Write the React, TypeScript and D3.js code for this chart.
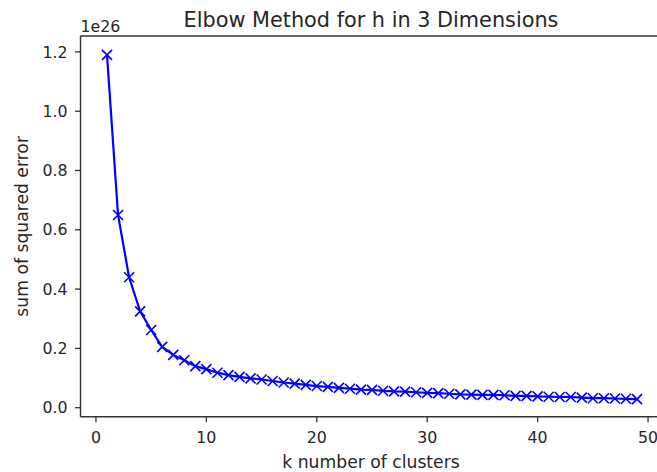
import React from "react";
import * as d3 from "d3";

const kValues: number[] = Array.from({ length: 49 }, (_, i) => i + 1);
const sse: number[] = [
  1.19, 0.65, 0.44, 0.325, 0.262, 0.205, 0.178, 0.16, 0.14, 0.13,
  0.118, 0.11, 0.104, 0.099, 0.095, 0.09, 0.085, 0.081, 0.077, 0.073,
  0.07, 0.067, 0.064, 0.061, 0.06, 0.057, 0.055, 0.054, 0.052, 0.05,
  0.049, 0.047, 0.045, 0.044, 0.043, 0.043, 0.042, 0.04, 0.04, 0.038,
  0.037, 0.036, 0.036, 0.034, 0.032, 0.032, 0.031, 0.03, 0.029,
];
const xTicks: number[] = [0, 10, 20, 30, 40, 50];
const yTicks: number[] = [0, 0.2, 0.4, 0.6, 0.8, 1.0, 1.2];

const title = "Elbow Method for h in 3 Dimensions";
const xLabel = "k number of clusters";
const yLabel = "sum of squared error";
const offsetText = "1e26";

export default function App() {
  const W = 657;
  const H = 472;
  const left = 80.5;
  const right = 663.5;
  const top = 36;
  const bottom = 416.7;
  const font = "DejaVu Sans, sans-serif";
  const fs = 15.8;
  const labelFs = 17.2;

  const x = d3.scaleLinear().domain([-1.4, 51.4]).range([left, right]);
  const y = d3.scaleLinear().domain([-0.0304, 1.2536]).range([bottom, top]);

  const line = d3
    .line<number>()
    .x((_, i) => x(kValues[i]))
    .y((d) => y(d));

  const ms = 5;
  const txtColor = "#262626";
  const axisColor = "#333";

  return (
    <svg
      width={W}
      height={H}
      style={{ position: "absolute", left: 0, top: 0, background: "#fff" }}
      fontFamily={font}
    >
      <rect x={0} y={0} width={W} height={H} fill="#fff" />
      <path d={line(sse) || ""} fill="none" stroke="#0000ff" strokeWidth={2.2} />
      {sse.map((v, i) => {
        const cx = x(kValues[i]);
        const cy = y(v);
        return (
          <path
            key={i}
            d={`M${cx - ms},${cy - ms}L${cx + ms},${cy + ms}M${cx - ms},${cy + ms}L${cx + ms},${cy - ms}`}
            stroke="#0000ff"
            strokeWidth={1.6}
            fill="none"
          />
        );
      })}
      {/* spines */}
      <line x1={left} x2={left} y1={top} y2={bottom} stroke={axisColor} strokeWidth={1.4} />
      <line x1={left} x2={W} y1={bottom} y2={bottom} stroke={axisColor} strokeWidth={1.4} />
      <line x1={left} x2={W} y1={top} y2={top} stroke={axisColor} strokeWidth={1.4} />
      {/* x ticks */}
      {xTicks.map((t) => (
        <g key={"x" + t}>
          <line x1={x(t)} x2={x(t)} y1={bottom} y2={bottom + 5.5} stroke={axisColor} strokeWidth={1.3} />
          <text x={x(t)} y={bottom + 26} textAnchor="middle" fontSize={fs} fill={txtColor}>
            {String(t)}
          </text>
        </g>
      ))}
      {/* y ticks */}
      {yTicks.map((t) => (
        <g key={"y" + t}>
          <line x1={left - 5.5} x2={left} y1={y(t)} y2={y(t)} stroke={axisColor} strokeWidth={1.3} />
          <text
            x={left - 13}
            y={y(t)}
            dy="0.36em"
            textAnchor="end"
            fontSize={fs}
            fill={txtColor}
          >
            {t.toFixed(1)}
          </text>
        </g>
      ))}
      <text x={left} y={32} fontSize={fs} fill={txtColor}>
        {offsetText}
      </text>
      <text x={371} y={26.5} textAnchor="middle" fontSize={20.8} fill={txtColor}>
        {title}
      </text>
      <text x={371} y={467.5} textAnchor="middle" fontSize={labelFs} fill={txtColor}>
        {xLabel}
      </text>
      <text
        transform={`translate(28,${(top + bottom) / 2}) rotate(-90)`}
        textAnchor="middle"
        fontSize={labelFs}
        fill={txtColor}
      >
        {yLabel}
      </text>
    </svg>
  );
}
